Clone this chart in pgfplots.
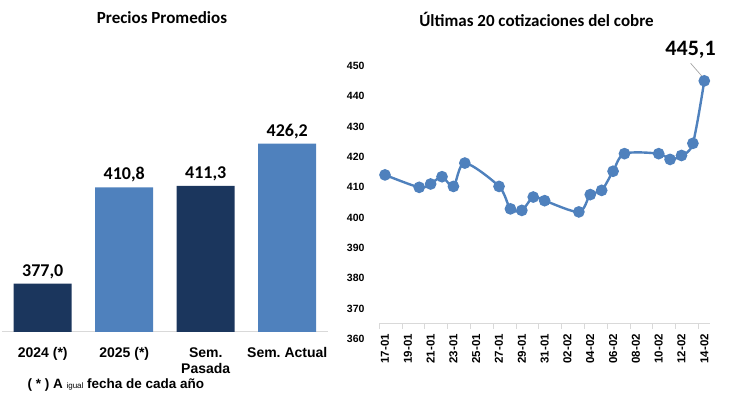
\documentclass[border=0pt]{standalone}
\usepackage{fontspec}
\setmainfont{Carlito}
\newfontfamily\lib{Liberation Sans}
\usepackage{pgfplots}
\pgfplotsset{compat=1.18}
\definecolor{lblue}{HTML}{4F81BD}
\definecolor{dblue}{HTML}{1B365D}
\definecolor{axgray}{HTML}{D9D9D9}
\frenchspacing
\begin{document}
\begin{tikzpicture}
\useasboundingbox (0pt,0pt) rectangle (734pt,403pt);
\node[font=\fontsize{17}{20}\selectfont\bfseries] at (162pt,385.5pt) {Precios Promedios};
\node[font=\fontsize{17}{20}\selectfont\bfseries] at (536.5pt,384pt) {Últimas 20 cotizaciones del cobre};
\node[anchor=west, font=\lib\bfseries\fontsize{13.5}{15}\selectfont] at (24pt,18pt) {( * ) A {\fontsize{8}{9}\selectfont\mdseries igual} fecha de cada año};

\begin{axis}[at={(2pt,71pt)}, anchor=south west, scale only axis,
  width=326pt, height=284.6pt,
  xmin=-0.5, xmax=3.5, ymin=360, ymax=460,
  axis y line=none, axis x line*=bottom,
  x axis line style={axgray, line width=1pt},
  xtick={0,1,2,3},
  xticklabels={2024 (*),2025 (*),{Sem.\\Pasada},{Sem.\ Actual}},
  xticklabel style={font=\lib\bfseries\fontsize{14}{16}\selectfont, align=center, yshift=-8pt},
  major x tick style={draw=none},
  ybar, bar width=58pt, bar shift=0pt,
  /pgf/number format/assume math mode=true,
  nodes near coords,
  every node near coord/.append style={font=\bfseries\fontsize{18}{20}\selectfont, yshift=1.5pt,
     /pgf/number format/.cd, use comma, fixed, fixed zerofill, precision=1, assume math mode=true},
]
\addplot[fill=dblue, draw=none] coordinates {(0,377.0) (2,411.3)};
\addplot[fill=lblue, draw=none] coordinates {(1,410.8) (3,426.2)};
\end{axis}

\begin{axis}[at={(379.3pt,64pt)}, anchor=south west, scale only axis,
  width=330.7pt, height=273pt,
  xmin=-0.5, xmax=28.5, ymin=360, ymax=450,
  ytick={360,370,...,450},
  axis y line*=left, y axis line style={draw=none},
  major y tick style={draw=none},
  yticklabel style={font=\lib\bfseries\fontsize{10.5}{12}\selectfont, xshift=-7pt},
  /pgf/number format/assume math mode=true,
  axis x line*=bottom, axis x line shift=-15.2pt,
  x axis line style={axgray, line width=1pt},
  xtick={0,2,...,28},
  xticklabels={17-01,19-01,21-01,23-01,25-01,27-01,29-01,31-01,02-02,04-02,06-02,08-02,10-02,12-02,14-02},
  xticklabel style={rotate=90, anchor=east, font=\lib\bfseries\fontsize{11.5}{12}\selectfont},
  xticklabel shift=2.5pt,
  major x tick style={draw=none},
  minor xtick={-0.5,1.5,...,27.5},
  minor x tick style={axgray, line width=1pt},
  minor tick length=5pt, tick align=outside,
  clip=false,
]
\addplot[lblue, line width=2.4pt, smooth, tension=0.5, mark=*, mark size=4.6pt, mark options={draw=none, fill=lblue, solid}]
coordinates {
(0,414.1) (3,410.0) (4,411.1) (5,413.5) (6,410.3) (7,418.0)
(10,410.3) (11,402.9) (12,402.4) (13,406.8) (14,405.6)
(17,401.9) (18,407.6) (19,409.0) (20,415.3) (21,421.1)
(24,421.1) (25,419.2) (26,420.5) (27,424.5) (28,445.1)
};
\draw[gray!70, line width=0.7pt] (axis cs:26.8,450.9) -- (axis cs:27.8,446.6);
\node[font=\bfseries\fontsize{22}{24}\selectfont] at (axis cs:26.8,455.3) {445,1};
\end{axis}
\end{tikzpicture}
\end{document}
